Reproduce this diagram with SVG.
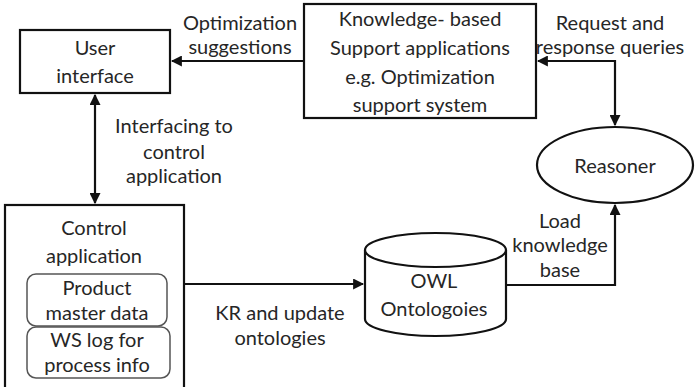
<svg xmlns="http://www.w3.org/2000/svg" width="696" height="387" viewBox="0 0 696 387">
  <style>
    .box { fill: #fff; stroke: #111; stroke-width: 2.2; }
    .inner { fill: #fff; stroke: #555; stroke-width: 1.5; }
    .edge { fill: none; stroke: #111; stroke-width: 2.2; }
    text { font-family: Lato, "Liberation Sans", sans-serif; font-size: 20px; fill: #262626; text-anchor: middle; }
  </style>
  <defs>
    <marker id="arrow" viewBox="0 0 10 10" refX="9" refY="5" markerWidth="5" markerHeight="5" orient="auto-start-reverse" markerUnits="strokeWidth">
      <path d="M0,0 L10,5 L0,10 Z" fill="#111"/>
    </marker>
  </defs>
  <rect width="696" height="387" fill="#fff"/>

  <g id="user-interface">
    <rect class="box" x="20" y="30" width="150" height="63"/>
    <text x="95" y="55">User</text>
    <text x="95" y="83">interface</text>
  </g>

  <g id="knowledge-support">
    <rect class="box" x="304" y="4" width="232" height="114"/>
    <text x="420" y="26">Knowledge-  based</text>
    <text x="420" y="55">Support applications</text>
    <text x="420" y="84">e.g. Optimization</text>
    <text x="420" y="112">support system</text>
  </g>

  <g id="reasoner">
    <ellipse class="box" cx="615" cy="165" rx="78" ry="38"/>
    <text x="615" y="173">Reasoner</text>
  </g>

  <g id="control-application">
    <rect class="box" x="5" y="205" width="179" height="190"/>
    <text x="94" y="235">Control</text>
    <text x="94" y="263">application</text>
    <rect class="inner" x="27" y="274" width="140" height="52" rx="9"/>
    <text x="97" y="295">Product</text>
    <text x="97" y="320">master data</text>
    <rect class="inner" x="27" y="327" width="143" height="51" rx="9"/>
    <text x="97" y="347">WS log for</text>
    <text x="97" y="372">process info</text>
  </g>

  <g id="owl-ontologies">
    <path class="box" d="M365,250 L365,319 A70.5,17 0 0 0 506,319 L506,250"/>
    <ellipse class="box" cx="435.5" cy="250" rx="70.5" ry="17"/>
    <text x="434" y="288">OWL</text>
    <text x="434" y="316">Ontologoies</text>
  </g>

  <g id="connectors">
    <line class="edge" x1="304" y1="61" x2="172" y2="61" marker-end="url(#arrow)"/>
    <path class="edge" d="M538,61 L615,61 L615,125" marker-start="url(#arrow)" marker-end="url(#arrow)"/>
    <line class="edge" x1="95" y1="95" x2="95" y2="203" marker-start="url(#arrow)" marker-end="url(#arrow)"/>
    <line class="edge" x1="184" y1="284" x2="363" y2="284" marker-end="url(#arrow)"/>
    <path class="edge" d="M506,285 L615,285 L615,205" marker-end="url(#arrow)"/>
  </g>

  <g id="labels">
    <text x="240" y="30">Optimization</text>
    <text x="240" y="54">suggestions</text>
    <text x="174" y="133">Interfacing to</text>
    <text x="174" y="159">control</text>
    <text x="174" y="183">application</text>
    <text x="610" y="30">Request and</text>
    <text x="610" y="54">response queries</text>
    <text x="280" y="320">KR and update</text>
    <text x="280" y="345">ontologies</text>
    <text x="560" y="228">Load</text>
    <text x="560" y="252">knowledge</text>
    <text x="560" y="277">base</text>
  </g>
</svg>
